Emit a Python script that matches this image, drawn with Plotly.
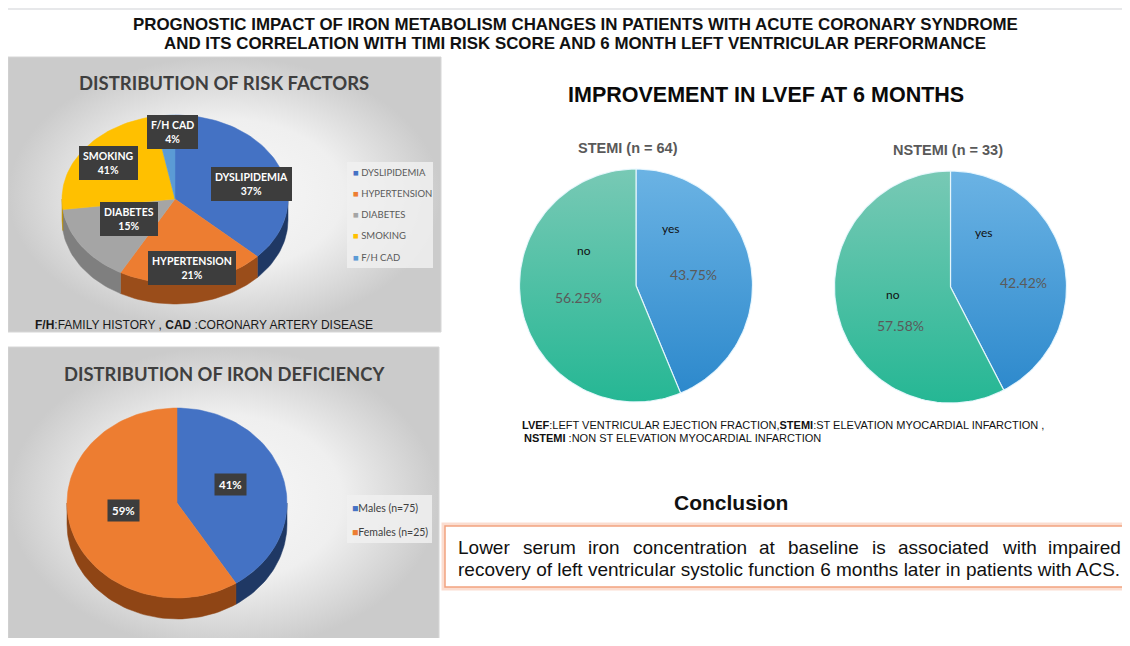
import math
import plotly.graph_objects as go

W, H = 1130, 646
OFF = 8  # the page body margin; axis ranges keep page-pixel coordinates

# ---------------- data ----------------
risk_labels = ["DYSLIPIDEMIA", "HYPERTENSION", "DIABETES", "SMOKING", "F/H CAD"]
risk_label_pct = [37, 21, 15, 41, 4]      # percentages printed on the slices
risk_share = [37, 21, 15, 24, 3]          # slice sizes as drawn in the chart
iron_labels = ["Males (n=75)", "Females (n=25)"]
iron_pct = [41, 59]
lvef_groups = ["STEMI (n = 64)", "NSTEMI (n = 33)"]
lvef_cats = ["yes", "no"]
stemi_pct = [43.75, 56.25]
nstemi_pct = [42.42, 57.58]

# ---------------- styles ----------------
risk_colors = ["#4472c4", "#ed7d31", "#a5a5a5", "#ffc000", "#5b9bd5"]
risk_walls = ["#1f3864", "#9a4d1a", "#7f7f7f", "#bf9000", "#2e75b6"]
iron_colors = ["#4472c4", "#ed7d31"]
iron_walls = ["#1f3864", "#8f4515"]
lvef_grad = {"yes": ("#6bb3e4", "#2a87cb"), "no": ("#78c9b5", "#25b794")}

ARIAL = "Liberation Sans, Arial"
CAL = "Lato, Open Sans, sans-serif"

fig = go.Figure()


def pt(cx, cy, rx, ry, t):
    r = math.radians(t)
    return cx + rx * math.sin(r), cy - ry * math.cos(r)


def arc(cx, cy, rx, ry, t0, t1):
    k = max(2, int(abs(t1 - t0) / 2) + 2)
    xs, ys = [], []
    for i in range(k):
        t = t0 + (t1 - t0) * i / (k - 1)
        x, y = pt(cx, cy, rx, ry, t)
        xs.append(x)
        ys.append(y)
    return xs, ys


def add_poly(xs, ys, fill, line=None, lw=0, grad=None):
    kw = dict(x=xs + [xs[0]], y=ys + [ys[0]], mode="lines", fill="toself",
              line=dict(color=line or fill, width=lw), fillcolor=fill,
              hoverinfo="skip", showlegend=False)
    if grad is not None:
        kw["fillgradient"] = grad
    fig.add_trace(go.Scatter(**kw))


def pie3d(values, colors, walls, cx, cy, rx, ry, depth):
    tot = float(sum(values))
    bounds = []
    acc = 0.0
    for v in values:
        t0 = acc / tot * 360
        acc += v
        t1 = acc / tot * 360
        bounds.append((t0, t1))
    # side walls (front half only: 90..270 deg clockwise from top)
    for (t0, t1), wc in zip(bounds, walls):
        a, b = max(t0, 90), min(t1, 270)
        if b <= a:
            continue
        tx, ty = arc(cx, cy, rx, ry, a, b)
        bx, by = arc(cx, cy + depth, rx, ry, b, a)
        add_poly(tx + bx, ty + by, wc, lw=0.5)
    # top faces
    for (t0, t1), c in zip(bounds, colors):
        ax, ay = arc(cx, cy, rx, ry, t0, t1)
        add_poly([cx] + ax, [cy] + ay, c, lw=0.5)


def pie_flat(values, cats, cx, cy, r):
    tot = float(sum(values))
    acc = 0.0
    for v, cat in zip(values, cats):
        t0 = acc / tot * 360
        acc += v
        t1 = acc / tot * 360
        ax, ay = arc(cx, cy, r, r, t0, t1)
        top, bot = lvef_grad[cat]
        grad = dict(type="vertical", start=cy - r, stop=cy + r,
                    colorscale=[[0, top], [1, bot]])
        add_poly([cx] + ax, [cy] + ay, bot, line="rgba(235,248,255,0.9)",
                 lw=1.2, grad=grad)


# ---------------- page background ----------------
shapes = [
    dict(type="rect", x0=0, x1=W + 10, y0=0, y1=10, fillcolor="#e7e8ea", line_width=0, layer="below"),
]

# panel backgrounds (gradient)
for (x0, x1, y0, y1) in [(8, 441, 57, 332), (8, 439, 347, 650)]:
    fig.add_trace(go.Scatter(
        x=[x0, x1, x1, x0, x0], y=[y0, y0, y1, y1, y0], mode="lines", fill="toself",
        line=dict(color="#d6d6d6", width=1), fillcolor="#e6e6e6",
        fillgradient=dict(type="radial", colorscale=[[0, "#f8f8f8"], [0.55, "#efefef"], [1, "#cbcbcb"]]),
        hoverinfo="skip", showlegend=False))

# ---------------- pies ----------------
pie3d(risk_share, risk_colors, risk_walls, 175, 199, 113, 84, 21)
pie3d(iron_pct, iron_colors, iron_walls, 177, 503, 110, 95, 21)
pie_flat(stemi_pct, lvef_cats, 636, 285.5, 116.5)
pie_flat(nstemi_pct, lvef_cats, 950.5, 287, 116)

ann = []


def text(x, y, s, size, color="#000", family=ARIAL, xanchor="center", **kw):
    ann.append(dict(x=x, y=y, xref="x", yref="y", text=s, showarrow=False,
                    font=dict(size=size, color=color, family=family),
                    xanchor=xanchor, yanchor="middle", **kw))


# main title
text(575, 24, "<b>PROGNOSTIC IMPACT OF IRON METABOLISM CHANGES IN PATIENTS WITH ACUTE CORONARY SYNDROME</b>", 16.9, "#111", ARIAL)
text(575, 43, "<b>AND ITS CORRELATION WITH TIMI RISK SCORE AND 6 MONTH LEFT VENTRICULAR PERFORMANCE</b>", 16.9, "#111", ARIAL)

# panel 1
text(224, 83, "<b>DISTRIBUTION OF RISK FACTORS</b>", 18.5, "#3f3f3f", CAL)
risk_pos = [(251, 184), (192, 268), (129, 219), (108, 163), (172, 132)]
for lab, p, (x, y) in zip(risk_labels, risk_label_pct, risk_pos):
    text(x, y, f"<b>{lab}</b><br><b>{p}%</b>", 10.5, "#ffffff", CAL,
         bgcolor="#3d3d3d", borderpad=4, borderwidth=0)
shapes.append(dict(type="rect", x0=347, x1=433, y0=162, y1=268,
                   fillcolor="rgba(240,240,240,0.85)", line_width=0))
for i, (lab, c) in enumerate(zip(risk_labels, risk_colors)):
    text(351, 172 + i * 21.3, f"<span style='color:{c}'>■</span> {lab}", 9.5, "#595959", CAL, xanchor="left")
text(33, 325, "<b>F/H</b>:FAMILY HISTORY , <b>CAD</b> :CORONARY ARTERY DISEASE", 12, "#1a1a1a", ARIAL, xanchor="left")

# panel 2
text(224, 374, "<b>DISTRIBUTION OF IRON DEFICIENCY</b>", 18.4, "#3f3f3f", CAL)
for p, (x, y) in zip(iron_pct, [(230, 484), (123, 510)]):
    text(x, y, f"<b>{p}%</b>", 11.5, "#ffffff", CAL, bgcolor="#3d3d3d", borderpad=4)
shapes.append(dict(type="rect", x0=347, x1=432, y0=495, y1=543,
                   fillcolor="rgba(240,240,240,0.85)", line_width=0))
for i, (lab, c) in enumerate(zip(iron_labels, iron_colors)):
    text(350, 508 + i * 24, f"<span style='color:{c}'>■</span>{lab}", 10.5, "#404040", CAL, xanchor="left")

# right: LVEF
text(766, 95, "<b>IMPROVEMENT IN LVEF AT 6 MONTHS</b>", 21.5, "#0a0a0a", ARIAL)
text(628, 148, f"<b>{lvef_groups[0]}</b>", 14.5, "#595959", ARIAL)
text(948, 150, f"<b>{lvef_groups[1]}</b>", 14.5, "#595959", ARIAL)
stemi_pos = {"yes": ((671, 228), (693, 274)), "no": ((584, 250), (578, 297))}
nstemi_pos = {"yes": ((984, 232), (1023, 282)), "no": ((893, 294), (900, 325))}
for vals, pos in [(stemi_pct, stemi_pos), (nstemi_pct, nstemi_pos)]:
    for cat, v in zip(lvef_cats, vals):
        (lx, ly), (px, py) = pos[cat]
        text(lx, ly, cat, 12, "#111", CAL)
        text(px, py, f"{v:.2f}%", 14, "#5a5a5a", CAL)

text(520, 425, "<b>LVEF</b>:LEFT VENTRICULAR EJECTION FRACTION,<b>STEMI</b>:ST ELEVATION MYOCARDIAL INFARCTION ,", 11, "#111", ARIAL, xanchor="left")
text(522, 438, "<b>NSTEMI</b> :NON ST ELEVATION MYOCARDIAL INFARCTION", 11, "#111", ARIAL, xanchor="left")

# conclusion
text(731, 502, "<b>Conclusion</b>", 21, "#111", ARIAL)
shapes.append(dict(type="rect", x0=444, x1=1140, y0=525, y1=588, fillcolor="rgba(0,0,0,0)",
                   line=dict(color="rgba(246,180,150,0.45)", width=5)))
shapes.append(dict(type="rect", x0=445, x1=1140, y0=526, y1=587, fillcolor="#ffffff",
                   line=dict(color="#f2a27f", width=1.5)))

# justified first line: word-by-word placement using Arial advance widths
ADV = {"L": 556, "o": 556, "w": 722, "e": 556, "r": 333, "s": 500, "u": 556, "m": 833,
       "i": 222, "n": 556, "c": 500, "t": 278, "a": 556, "b": 556, "l": 222, "d": 556,
       "h": 556, "p": 556}
FS = 19
words = "Lower serum iron concentration at baseline is associated with impaired".split(" ")
wpx = [sum(ADV.get(ch, 556) for ch in wd) * FS / 1000 for wd in words]
x_left, x_right = 456, 1119
gap = (x_right - x_left - sum(wpx)) / (len(words) - 1)
xcur = x_left
for wd, wv in zip(words, wpx):
    text(xcur, 547, wd, FS, "#111", ARIAL, xanchor="left")
    xcur += wv + gap
text(456, 569, "recovery of left ventricular systolic function 6 months later in patients with ACS.", FS, "#111", ARIAL, xanchor="left")

# the visible page area is x 8..1122, y 8..638 (8 px body margin)
fig.update_layout(
    width=W - 2 * OFF, height=H - 2 * OFF, margin=dict(l=0, r=0, t=0, b=0),
    paper_bgcolor="#ffffff", plot_bgcolor="#ffffff",
    xaxis=dict(range=[OFF, W - OFF], visible=False, fixedrange=True),
    yaxis=dict(range=[H - OFF, OFF], visible=False, fixedrange=True),
    shapes=shapes, annotations=ann, showlegend=False,
)
fig.write_html("out.html")
